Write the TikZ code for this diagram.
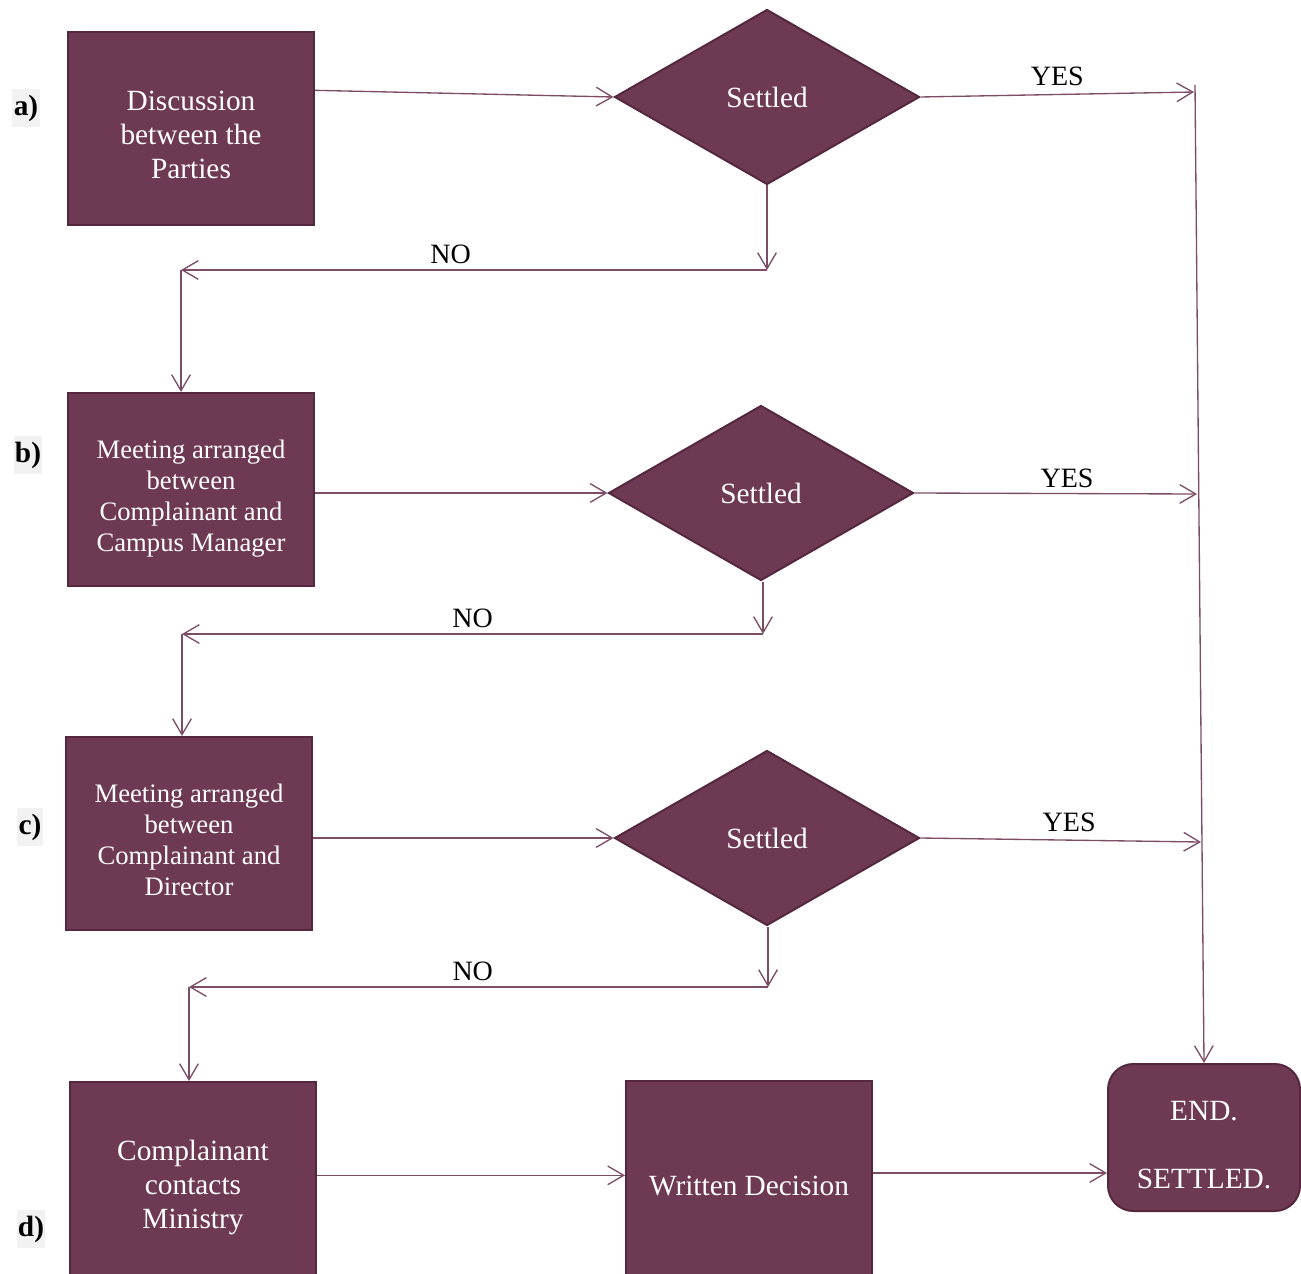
\documentclass[tikz,border=0pt]{standalone}
\usepackage{fontspec}
\setmainfont{Liberation Serif}
\usetikzlibrary{shapes}
\usetikzlibrary{arrows.meta}
\definecolor[named]{Plum}{HTML}{6D3953}
\definecolor[named]{PlumEdge}{HTML}{55283F}
\definecolor[named]{PlumLine}{HTML}{7C4D67}
\definecolor[named]{TagGray}{HTML}{F2F2F2}
\newcommand{\boxfont}{\fontsize{22}{25.5}\selectfont}
\newcommand{\meetfont}{\fontsize{20}{23.25}\selectfont}
\newcommand{\answerfont}{\fontsize{21}{25}\selectfont}
% pushes the first line of a box down a little
\newcommand{\sink}[1]{\rule{0pt}{#1em}}
\newcommand{\stagetag}[3]{%
  \node[stage] (#1) at #2 {#3};
}
\tikzset{
  procbox/.style={draw=PlumEdge,line width=1.5pt,fill=Plum,text=white,
    minimum width=184.5pt,minimum height=144.75pt,align=center,inner sep=2pt},
  settled/.style={diamond,draw=PlumEdge,line width=1.5pt,fill=Plum,text=white,
    minimum width=228.75pt,minimum height=131.25pt,inner sep=0pt,font=\boxfont},
  flow/.style={draw=PlumLine,line width=1pt,
    -{Straight Barb[length=12pt,width=14pt]}},
  stage/.style={fill=TagGray,inner xsep=1pt,inner ysep=4pt,
    font=\fontsize{22}{24}\selectfont\bfseries},
  answer/.style={font=\answerfont,inner sep=4pt},
}

\begin{document}
\begin{tikzpicture}[x=0.75pt,y=-0.75pt]
      \useasboundingbox (0,0) rectangle (1301,1273);
      \clip (0,0) rectangle (1301,1273);

      % Stage tags {{{
      \stagetag{tagA}{(26,108)}{a)}
      \stagetag{tagB}{(28,455)}{b)}
      \stagetag{tagC}{(30,827)}{c)}
      \stagetag{tagD}{(31,1229)}{d)}
      % }}}

      % Boxes {{{
      \node[procbox,font=\boxfont] (boxA) at (191,128.5)
        {\sink{1.1}Discussion\\between the\\Parties};
      \node[procbox,font=\meetfont] (boxB) at (191,489.5)
        {\sink{1.35}Meeting arranged\\between\\Complainant and\\Campus Manager};
      \node[procbox,font=\meetfont] (boxC) at (189,833.5)
        {\sink{1.18}Meeting arranged\\between\\Complainant and\\Director};
      \node[procbox,font=\boxfont,minimum height=150pt] (boxD) at (193,1182)
        {\sink{1.1}Complainant\\contacts\\Ministry};
      \node[procbox,font=\boxfont,minimum height=150pt] (decision) at (749,1181)
        {\sink{1.02}Written Decision};
      \node[procbox,rounded corners=19pt,minimum width=144pt,minimum height=110.25pt,
        font=\boxfont] (endbox) at (1204,1137.5) {\sink{1.14}END.\\[25.5pt]SETTLED.};

      \node[settled] (dA) at (767,97) {Settled};
      \node[settled] (dB) at (761,493) {Settled};
      \node[settled] (dC) at (767,838) {Settled};
      % }}}

      % Rail to the end {{{
      \coordinate (railtop) at (1195,85);
      \coordinate (yesA) at (1194,92);
      \coordinate (yesB) at (1197,494);
      \coordinate (yesC) at (1201,842);
      \draw[flow] (railtop) -- (endbox.north);
      % }}}

      % Row a {{{
      \coordinate (noA) at (767,270);
      \coordinate (turnA) at (181,270);
      \draw[flow] ([yshift=5pt]boxA.east |- dA.west) -- (dA.west);
      \draw[flow] (dA.east) -- (yesA) node[answer,midway,above=2pt] {YES};
      \draw[flow] (dA.south) -- (noA);
      \draw[flow] (noA) -- (turnA) node[answer,pos=0.54,above] {NO};
      \draw[flow] (turnA) -- (turnA |- boxB.north);
      % }}}

      % Row b {{{
      \coordinate (noB) at (763,634);
      \coordinate (turnB) at (182,634);
      \draw[flow] (boxB.east |- dB.west) -- (dB.west);
      \draw[flow] (dB.east) -- (yesB) node[answer,pos=0.54,above] {YES};
      \draw[flow] (dB.south -| noB) -- (noB);
      \draw[flow] (noB) -- (turnB) node[answer,pos=0.5,above] {NO};
      \draw[flow] (turnB) -- (turnB |- boxC.north);
      % }}}

      % Row c {{{
      \coordinate (noC) at (768,987);
      \coordinate (turnC) at (189,987);
      \draw[flow] (boxC.east |- dC.west) -- (dC.west);
      \draw[flow] (dC.east) -- (yesC) node[answer,pos=0.53,above=2pt] {YES};
      \draw[flow] (dC.south -| noC) -- (noC);
      \draw[flow] (noC) -- (turnC) node[answer,pos=0.51,above] {NO};
      \draw[flow] (turnC) -- (turnC |- boxD.north);
      % }}}

      % Row d {{{
      \draw[flow] ([yshift=5pt]boxD.east) -- ([yshift=5pt]boxD.east -| decision.west);
      \draw[flow] ([yshift=6pt]decision.east) -- ([yshift=6pt]decision.east -| endbox.west);
      % }}}

    \end{tikzpicture}
\end{document}
